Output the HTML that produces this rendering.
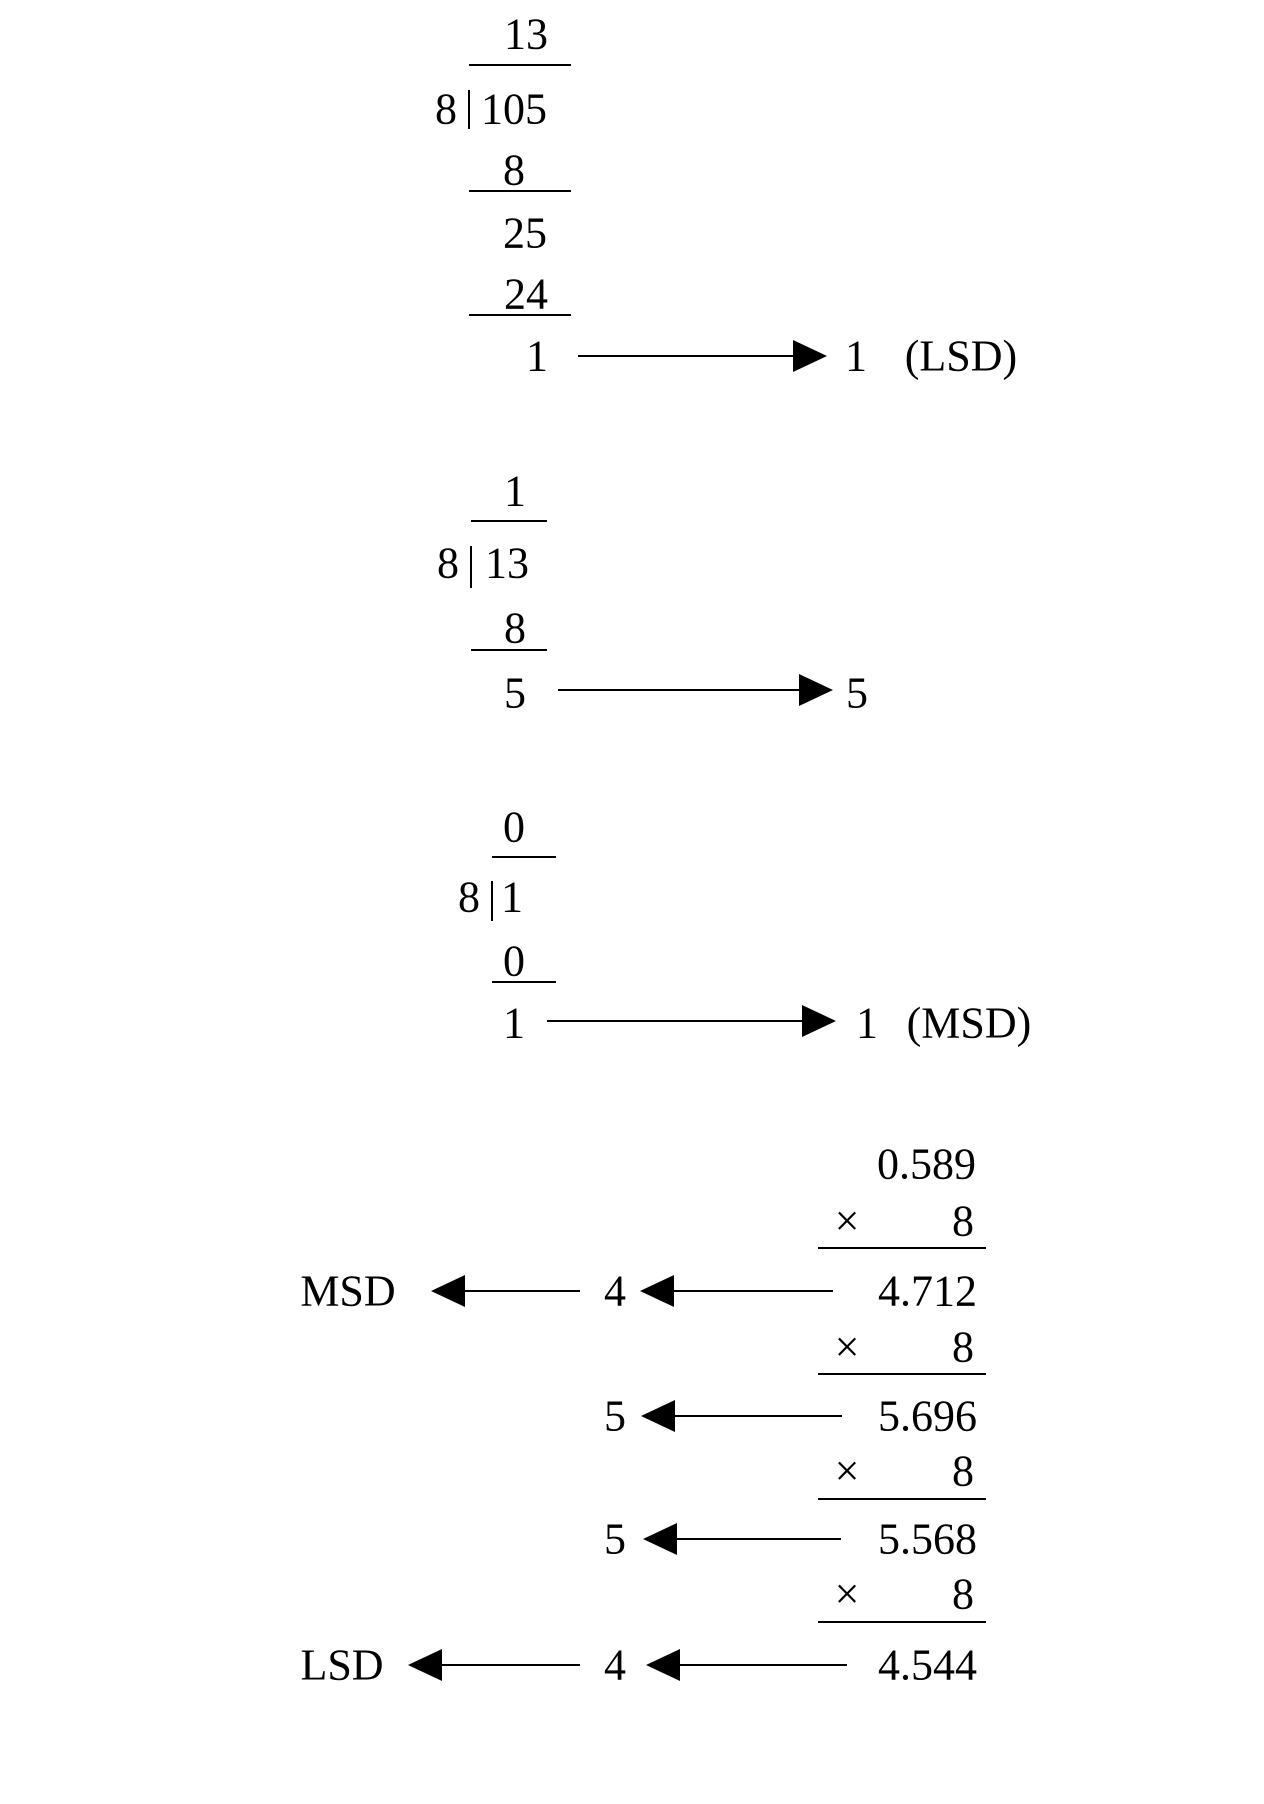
<!DOCTYPE html>
<html><head><meta charset="utf-8"><style>html,body{margin:0;padding:0;background:#fff}</style></head>
<body>
<svg width="1264" height="1799" xmlns="http://www.w3.org/2000/svg" font-family="Liberation Serif, serif" font-size="44" fill="#000">
<g text-anchor="middle" dominant-baseline="central">
<text x="526" y="34">13</text>
<text x="446" y="109">8</text>
<text x="514" y="109">105</text>
<text x="514" y="170">8</text>
<text x="525" y="233">25</text>
<text x="526" y="294">24</text>
<text x="537" y="356">1</text>
<text x="856" y="356">1</text>
<text x="961" y="356">(LSD)</text>

<text x="515" y="491">1</text>
<text x="448" y="563">8</text>
<text x="507" y="563">13</text>
<text x="515" y="628">8</text>
<text x="515" y="693">5</text>
<text x="857" y="693">5</text>

<text x="514" y="827">0</text>
<text x="469" y="897">8</text>
<text x="512" y="897">1</text>
<text x="514" y="961">0</text>
<text x="514" y="1023">1</text>
<text x="867" y="1023">1</text>
<text x="969" y="1023">(MSD)</text>

<text x="847" y="1221">×</text><text x="963" y="1221">8</text>
<text x="847" y="1347">×</text><text x="963" y="1347">8</text>
<text x="847" y="1471">×</text><text x="963" y="1471">8</text>
<text x="847" y="1594">×</text><text x="963" y="1594">8</text>
<text x="615" y="1291">4</text>
<text x="615" y="1416">5</text>
<text x="615" y="1539">5</text>
<text x="615" y="1665">4</text>
<text x="348" y="1291">MSD</text>
<text x="342" y="1665">LSD</text>
</g>
<g text-anchor="end" dominant-baseline="central">
<text x="976" y="1164">0.589</text>
<text x="977" y="1291">4.712</text>
<text x="977" y="1416">5.696</text>
<text x="977" y="1539">5.568</text>
<text x="977" y="1665">4.544</text>
</g>
<g stroke="#000" stroke-width="2">
<line x1="469" y1="65" x2="571" y2="65"/><line x1="469" y1="90" x2="469" y2="129"/>
<line x1="469" y1="191" x2="571" y2="191"/>
<line x1="469" y1="315" x2="571" y2="315"/>
<line x1="578" y1="356" x2="800" y2="356"/>
<line x1="471" y1="521" x2="547" y2="521"/><line x1="471" y1="546" x2="471" y2="588"/>
<line x1="471" y1="650" x2="547" y2="650"/>
<line x1="558" y1="690" x2="805" y2="690"/>
<line x1="492" y1="857" x2="556" y2="857"/><line x1="492" y1="881" x2="492" y2="921"/>
<line x1="492" y1="982" x2="556" y2="982"/>
<line x1="547" y1="1021" x2="808" y2="1021"/>
<line x1="818" y1="1248" x2="986" y2="1248"/>
<line x1="818" y1="1374" x2="986" y2="1374"/>
<line x1="818" y1="1499" x2="986" y2="1499"/>
<line x1="818" y1="1622" x2="986" y2="1622"/>
<line x1="460" y1="1291" x2="580" y2="1291"/>
<line x1="670" y1="1291" x2="833" y2="1291"/>
<line x1="670" y1="1416" x2="842" y2="1416"/>
<line x1="672" y1="1539" x2="841" y2="1539"/>
<line x1="437" y1="1665" x2="580" y2="1665"/>
<line x1="675" y1="1665" x2="847" y2="1665"/>
</g>
<g>
<polygon points="827,356 793,340 793,372"/>
<polygon points="833,690 799,674 799,706"/>
<polygon points="836,1021 802,1005 802,1037"/>
<polygon points="431,1291 465,1275 465,1307"/>
<polygon points="640,1291 674,1275 674,1307"/>
<polygon points="641,1416 675,1400 675,1432"/>
<polygon points="643,1539 677,1523 677,1555"/>
<polygon points="408,1665 442,1649 442,1681"/>
<polygon points="646,1665 680,1649 680,1681"/>
</g>
</svg>
</body></html>
